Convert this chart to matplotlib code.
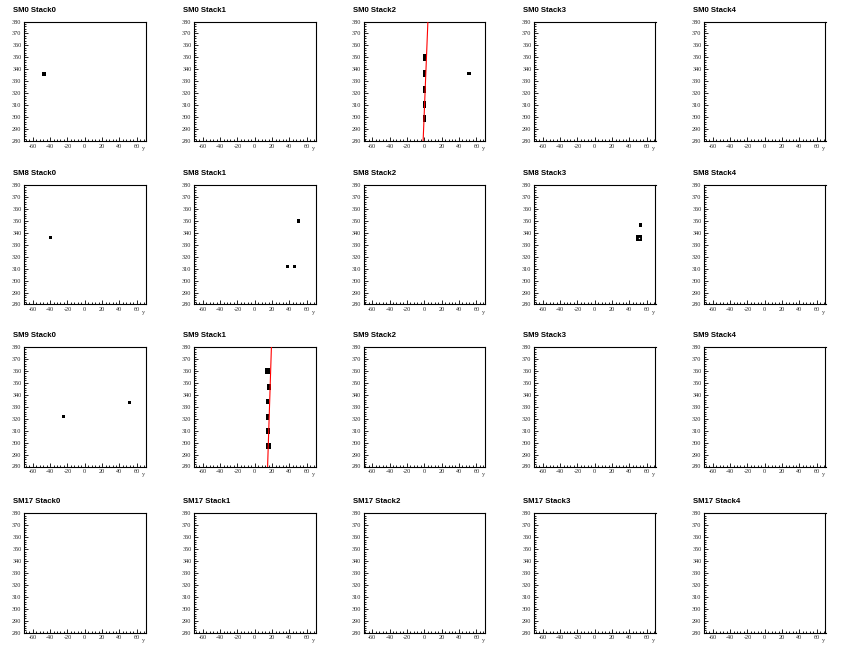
import matplotlib
matplotlib.use("Agg")
import matplotlib.pyplot as plt
from matplotlib.patches import Rectangle
from matplotlib.ticker import MultipleLocator, FixedLocator

# ---- data ----
modules = ["SM0", "SM8", "SM9", "SM17"]
stacks = ["Stack0", "Stack1", "Stack2", "Stack3", "Stack4"]
x_range = (-70, 70)
y_range = (280, 380)
x_ticks = [-60, -40, -20, 0, 20, 40, 60]
y_ticks = [280, 290, 300, 310, 320, 330, 340, 350, 360, 370, 380]
axis_title = "y"

# hits: (module, stack) -> x centres, y centres, x extent, y extent
sm0_s0_x = [-47.0]
sm0_s0_y = [336.0]
sm0_s0_w = [3.6]
sm0_s0_h = [2.7]

sm0_s2_x = [0.5, 0.3, 0.0, -0.2, 0.3, 51.6]
sm0_s2_y = [349.8, 336.7, 323.3, 310.8, 299.0, 336.7]
sm0_s2_w = [3.4, 4.4, 3.2, 3.4, 3.9, 3.6]
sm0_s2_h = [5.5, 5.8, 5.8, 5.8, 5.4, 2.7]

sm8_s0_x = [-39.0]
sm8_s0_y = [336.0]
sm8_s0_w = [3.6]
sm8_s0_h = [2.7]

sm8_s1_x = [37.5, 45.5, 50.5]
sm8_s1_y = [311.8, 311.8, 349.8]
sm8_s1_w = [3.6, 3.6, 3.6]
sm8_s1_h = [2.7, 2.7, 2.7]

sm8_s3_x = [53.0, 50.5]
sm8_s3_y = [346.6, 335.6]
sm8_s3_w = [3.6, 6.8]
sm8_s3_h = [2.7, 5.0]
sm8_s3_hole_x = [50.5]
sm8_s3_hole_y = [335.6]

sm9_s0_x = [-24.8, 51.1]
sm9_s0_y = [322.0, 333.6]
sm9_s0_w = [3.6, 3.6]
sm9_s0_h = [2.7, 2.7]

sm9_s1_x = [14.8, 16.3, 15.1, 14.8, 14.9, 15.8]
sm9_s1_y = [359.6, 346.8, 334.4, 321.6, 309.6, 296.8]
sm9_s1_w = [5.8, 4.2, 3.5, 4.2, 4.2, 6.8]
sm9_s1_h = [5.0, 4.8, 4.6, 4.6, 4.6, 5.0]

hits = {
    ("SM0", "Stack0"): (sm0_s0_x, sm0_s0_y, sm0_s0_w, sm0_s0_h),
    ("SM0", "Stack2"): (sm0_s2_x, sm0_s2_y, sm0_s2_w, sm0_s2_h),
    ("SM8", "Stack0"): (sm8_s0_x, sm8_s0_y, sm8_s0_w, sm8_s0_h),
    ("SM8", "Stack1"): (sm8_s1_x, sm8_s1_y, sm8_s1_w, sm8_s1_h),
    ("SM8", "Stack3"): (sm8_s3_x, sm8_s3_y, sm8_s3_w, sm8_s3_h),
    ("SM9", "Stack0"): (sm9_s0_x, sm9_s0_y, sm9_s0_w, sm9_s0_h),
    ("SM9", "Stack1"): (sm9_s1_x, sm9_s1_y, sm9_s1_w, sm9_s1_h),
}

# fitted tracks: x at y=280 and y=380
sm0_s2_track_x = [-1.3, 4.2]
sm0_s2_track_y = [280, 380]
sm9_s1_track_x = [14.8, 19.2]
sm9_s1_track_y = [280, 380]
tracks = {
    ("SM0", "Stack2"): (sm0_s2_track_x, sm0_s2_track_y),
    ("SM9", "Stack1"): (sm9_s1_track_x, sm9_s1_track_y),
}

# ---- layout ----
W, H = 851, 656
fig = plt.figure(figsize=(W / 100, H / 100), dpi=100)
fig.patch.set_facecolor("white")

col_left = [24, 194, 363.5, 534, 704]
row_top = [21.5, 185, 347, 513.3]
ax_w, ax_h = 121.5, 119.5

serif = "Liberation Serif"
sans = "Liberation Sans"
tick_fs = 4.4

for r, mod in enumerate(modules):
    for c, st in enumerate(stacks):
        l = col_left[c]
        t = row_top[r]
        ax = fig.add_axes([l / W, 1 - (t + ax_h) / H, ax_w / W, ax_h / H])
        ax.set_xlim(*x_range)
        ax.set_ylim(*y_range)
        for s in ax.spines.values():
            s.set_linewidth(0.8)
            s.set_color("black")
        ax.xaxis.set_major_locator(FixedLocator(x_ticks))
        ax.xaxis.set_minor_locator(MultipleLocator(4))
        ax.yaxis.set_major_locator(FixedLocator(y_ticks))
        ax.yaxis.set_minor_locator(MultipleLocator(2))
        ax.tick_params(which="both", direction="in", top=False, right=False,
                       width=0.6, color="black")
        ax.tick_params(which="major", length=2.6, pad=1.8)
        ax.tick_params(which="minor", length=1.3)
        ax.set_xticklabels([str(v) for v in x_ticks], fontfamily=serif,
                           fontsize=tick_fs, color="#222222")
        ax.set_yticklabels([str(v) for v in y_ticks], fontfamily=serif,
                           fontsize=tick_fs, color="#222222")

        key = (mod, st)
        if key in tracks:
            tx, ty = tracks[key]
            ax.plot(tx, ty, color="red", lw=0.8, zorder=3)
        if key in hits:
            xs, ys, ws, hs = hits[key]
            for x, y, w, h in zip(xs, ys, ws, hs):
                ax.add_patch(Rectangle((x - w / 2, y - h / 2), w, h,
                                       facecolor="black", edgecolor="none",
                                       zorder=2))
        if key == ("SM8", "Stack3"):
            ax.plot(sm8_s3_hole_x, sm8_s3_hole_y, marker="s", ms=0.9,
                    color="white", mec="none", ls="none", zorder=4)

        ax.text(1.0, -0.045, axis_title, transform=ax.transAxes, ha="right",
                va="top", fontsize=tick_fs, fontfamily=serif, color="#333333")
        fig.text((l - 10.7) / W, 1 - (t - 11.5) / H, f"{mod} {st}",
                 ha="left", va="center", fontsize=5.6, fontweight="bold",
                 fontfamily=sans)

fig.savefig("out.png", dpi=100, facecolor="white")
